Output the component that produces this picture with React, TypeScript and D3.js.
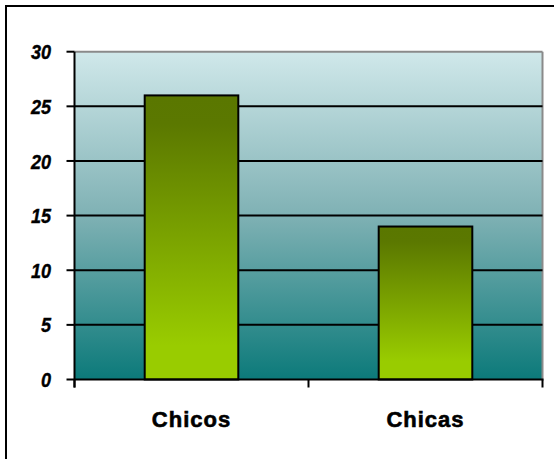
import React from "react";
import * as d3 from "d3";

// Data
const categories: string[] = ["Chicos", "Chicas"];
const values: number[] = [26, 14];
const yTicks: number[] = [0, 5, 10, 15, 20, 25, 30];

const W = 554;
const H = 459;
const plot = { left: 74.5, right: 542.5, top: 51.7, bottom: 379.5 };

export default function App() {
  const x = d3
    .scaleBand<string>()
    .domain(categories)
    .range([plot.left, plot.right])
    .paddingInner(0)
    .paddingOuter(0);
  const y = d3.scaleLinear().domain([0, 30]).range([plot.bottom, plot.top]);
  const barW = x.bandwidth() * 0.4;
  const font = "'Liberation Sans', Arial, sans-serif";

  return (
    <svg
      width={W}
      height={H}
      style={{ position: "absolute", left: 0, top: 0, display: "block" }}
    >
      <defs>
        <linearGradient id="plotBg" x1="0" y1="0" x2="0" y2="1">
          <stop offset="0" stopColor="#d0e8ea" />
          <stop offset="0.5" stopColor="#7fb1b4" />
          <stop offset="1" stopColor="#0c7a7a" />
        </linearGradient>
        <linearGradient id="barFill" x1="0" y1="0" x2="0" y2="1">
          <stop offset="0" stopColor="#5a7700" />
          <stop offset="0.1" stopColor="#5b7800" />
          <stop offset="0.88" stopColor="#99cc00" />
          <stop offset="1" stopColor="#99cc00" />
        </linearGradient>
      </defs>
      <rect x={0} y={0} width={W} height={H} fill="#ffffff" />
      {/* outer frame */}
      <rect
        x={6}
        y={6}
        width={W + 10}
        height={H + 10}
        fill="none"
        stroke="#000"
        strokeWidth={2}
      />
      {/* plot area */}
      <rect
        x={plot.left}
        y={plot.top}
        width={plot.right - plot.left}
        height={plot.bottom - plot.top}
        fill="url(#plotBg)"
      />
      <line
        x1={plot.left}
        x2={plot.right}
        y1={plot.top}
        y2={plot.top}
        stroke="#8a8a8a"
        strokeWidth={2}
      />
      <line
        x1={plot.right}
        x2={plot.right}
        y1={plot.top}
        y2={plot.bottom}
        stroke="#8a8a8a"
        strokeWidth={2}
      />
      {/* gridlines */}
      {yTicks
        .filter((t) => t > 0 && t < 30)
        .map((t) => (
          <line
            key={"g" + t}
            x1={plot.left}
            x2={plot.right}
            y1={y(t)}
            y2={y(t)}
            stroke="#000"
            strokeWidth={2}
          />
        ))}
      {/* bars */}
      {categories.map((c, i) => {
        const cx = (x(c) as number) + x.bandwidth() / 2;
        return (
          <rect
            key={c}
            x={cx - barW / 2}
            y={y(values[i])}
            width={barW}
            height={y(0) - y(values[i])}
            fill="url(#barFill)"
            stroke="#000"
            strokeWidth={2}
          />
        );
      })}
      {/* axes */}
      <line
        x1={plot.left}
        x2={plot.left}
        y1={plot.top}
        y2={plot.bottom + 8}
        stroke="#000"
        strokeWidth={2}
      />
      <line
        x1={plot.left}
        x2={plot.right + 1}
        y1={plot.bottom}
        y2={plot.bottom}
        stroke="#000"
        strokeWidth={2}
      />
      {yTicks.map((t) => (
        <g key={"t" + t}>
          <line
            x1={plot.left - 8}
            x2={plot.left}
            y1={y(t)}
            y2={y(t)}
            stroke="#000"
            strokeWidth={2}
          />
          <text
            transform={`translate(51,${y(t) + 7.6}) scale(0.86,1)`}
            textAnchor="end"
            fontFamily={font}
            fontWeight="bold"
            fontStyle="italic"
            fontSize={21}
            fill="#000"
            stroke="#000"
            strokeWidth={0.4}
          >
            {t}
          </text>
        </g>
      ))}
      {[...categories.map((c) => x(c) as number), plot.right].map((px, i) => (
        <line
          key={"xt" + i}
          x1={px}
          x2={px}
          y1={plot.bottom}
          y2={plot.bottom + 8}
          stroke="#000"
          strokeWidth={2}
        />
      ))}
      {categories.map((c) => (
        <text
          key={"l" + c}
          x={(x(c) as number) + x.bandwidth() / 2}
          y={427}
          textAnchor="middle"
          fontFamily={font}
          fontWeight="bold"
          fontSize={22}
          letterSpacing={1}
          fill="#000"
          stroke="#000"
          strokeWidth={0.6}
        >
          {c}
        </text>
      ))}
    </svg>
  );
}
